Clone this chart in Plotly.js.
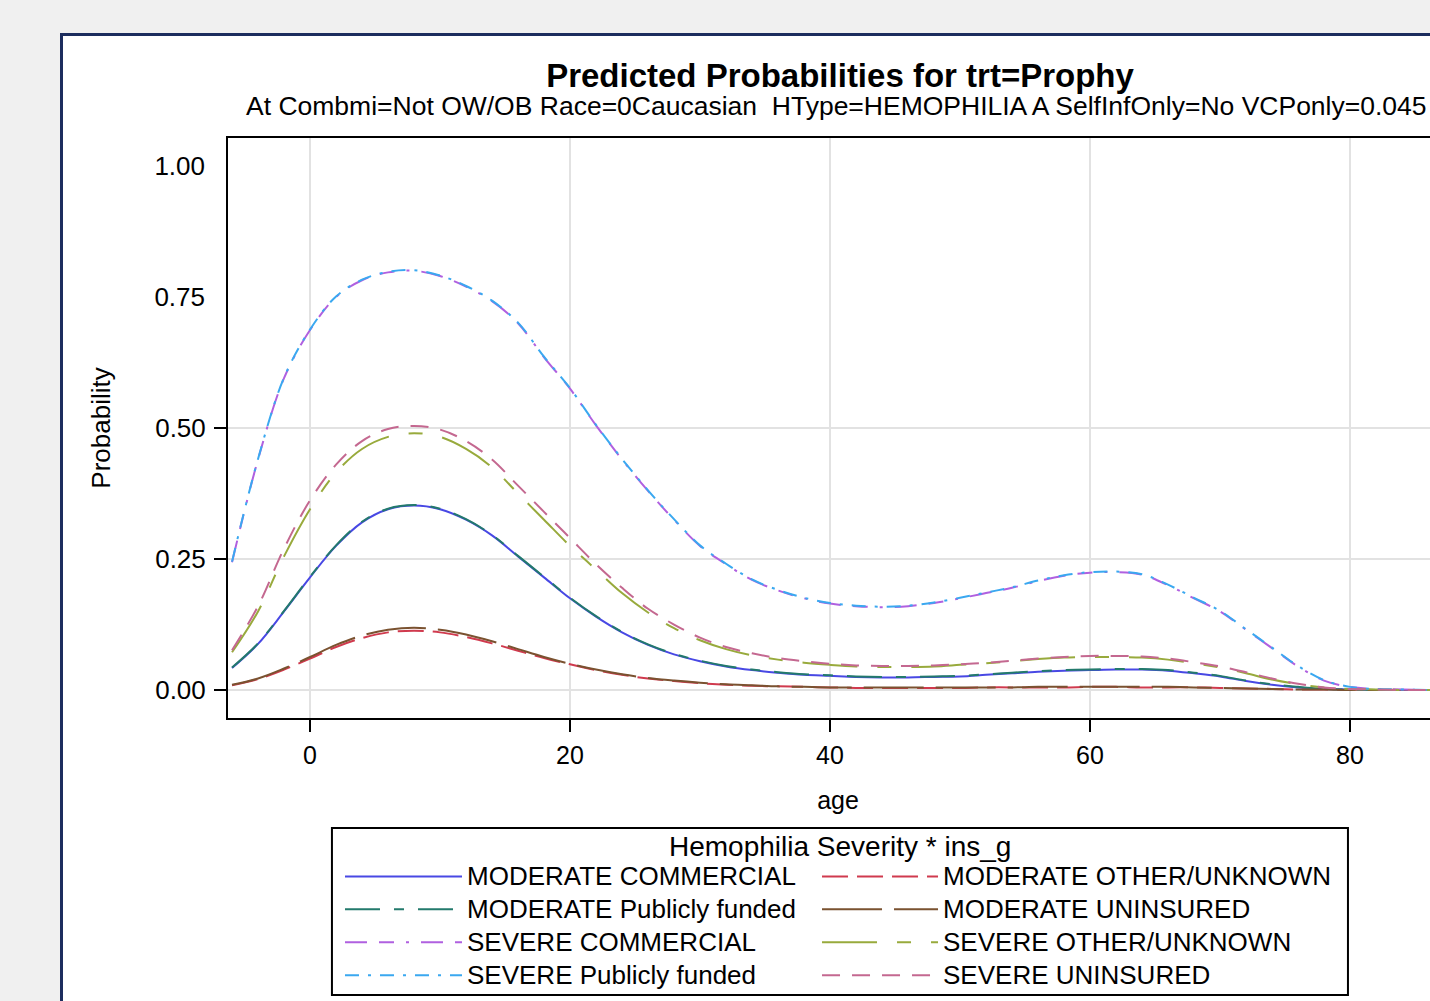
<!DOCTYPE html>
<html>
<head>
<meta charset="utf-8">
<script src="https://cdn.plot.ly/plotly-3.0.1.min.js"></script>
<style>
  html, body { margin:0; padding:0; width:1430px; height:1001px; overflow:hidden; background:#f0f0f0; }
  #frame { position:absolute; left:60px; top:33px; width:1600px; height:1100px; background:#ffffff;
           border-left:3px solid #1c2d5e; border-top:3px solid #1c2d5e; }
  #chart { position:absolute; left:0px; top:0px; }
</style>
</head>
<body>
<div id="frame"><div id="chart"></div></div>
<script>
// ---- data ----
const age = [-6,-4,-2,0,2,4,6,8,10,12,14,16,18,20,22,24,26,28,30,32,34,36,38,40,42,44,46,48,50,52,54,56,58,60,62,64,66,68,70,72,74,76,78,80,82,84,86,88];

const modCommercial = [0.042,0.088,0.150,0.215,0.275,0.320,0.345,0.352,0.345,0.325,0.295,0.255,0.215,0.175,0.140,0.110,0.086,0.068,0.055,0.045,0.038,0.033,0.029,0.027,0.025,0.024,0.024,0.025,0.026,0.029,0.032,0.035,0.037,0.038,0.039,0.039,0.037,0.032,0.026,0.017,0.010,0.005,0.002,0.001,0.000,0.000,0.000,0.000];
const modOther = [0.009,0.021,0.039,0.060,0.082,0.099,0.110,0.113,0.110,0.101,0.089,0.075,0.061,0.049,0.038,0.029,0.022,0.017,0.013,0.010,0.008,0.007,0.006,0.005,0.004,0.004,0.004,0.004,0.004,0.005,0.005,0.005,0.005,0.006,0.006,0.005,0.005,0.005,0.004,0.003,0.002,0.001,0.001,0.000,0.000,0.000,0.000,0.000];
const modPublic = [0.043,0.089,0.151,0.216,0.276,0.321,0.346,0.353,0.346,0.326,0.296,0.256,0.216,0.176,0.141,0.111,0.087,0.069,0.056,0.046,0.039,0.034,0.030,0.028,0.026,0.025,0.025,0.026,0.027,0.030,0.033,0.036,0.038,0.039,0.040,0.040,0.038,0.033,0.027,0.018,0.011,0.006,0.002,0.001,0.000,0.000,0.000,0.000];
const modUninsured = [0.010,0.022,0.041,0.063,0.086,0.104,0.115,0.119,0.115,0.106,0.093,0.078,0.063,0.050,0.039,0.030,0.023,0.018,0.014,0.011,0.009,0.007,0.006,0.005,0.005,0.005,0.005,0.005,0.005,0.005,0.005,0.006,0.006,0.006,0.006,0.006,0.006,0.005,0.004,0.003,0.002,0.001,0.001,0.000,0.000,0.000,0.000,0.000];
const sevCommercial = [0.244,0.440,0.595,0.687,0.750,0.782,0.797,0.800,0.790,0.770,0.742,0.700,0.635,0.575,0.505,0.440,0.380,0.325,0.275,0.240,0.210,0.190,0.175,0.165,0.160,0.158,0.160,0.166,0.175,0.185,0.195,0.208,0.218,0.224,0.225,0.220,0.200,0.175,0.150,0.115,0.080,0.045,0.018,0.006,0.002,0.001,0.000,0.000];
const sevOther = [0.072,0.150,0.255,0.345,0.415,0.460,0.483,0.490,0.483,0.460,0.425,0.375,0.325,0.275,0.230,0.185,0.148,0.118,0.095,0.078,0.066,0.058,0.052,0.048,0.045,0.044,0.044,0.045,0.048,0.051,0.055,0.059,0.062,0.063,0.063,0.062,0.058,0.051,0.043,0.032,0.020,0.011,0.005,0.002,0.001,0.000,0.000,0.000];
const sevPublic = [0.245,0.441,0.596,0.688,0.751,0.783,0.798,0.801,0.791,0.771,0.743,0.701,0.636,0.576,0.506,0.441,0.381,0.326,0.276,0.241,0.211,0.191,0.176,0.166,0.161,0.159,0.161,0.167,0.176,0.186,0.196,0.209,0.219,0.225,0.226,0.221,0.201,0.176,0.151,0.116,0.081,0.046,0.019,0.006,0.002,0.001,0.000,0.000];
const sevUninsured = [0.076,0.160,0.270,0.362,0.430,0.475,0.498,0.504,0.497,0.475,0.440,0.390,0.340,0.290,0.240,0.195,0.155,0.125,0.100,0.082,0.070,0.061,0.055,0.050,0.047,0.046,0.046,0.047,0.049,0.052,0.056,0.060,0.063,0.065,0.065,0.064,0.060,0.053,0.045,0.034,0.022,0.012,0.005,0.002,0.001,0.000,0.000,0.000];

const seriesNames = ["MODERATE COMMERCIAL","MODERATE OTHER/UNKNOWN","MODERATE Publicly funded","MODERATE UNINSURED",
                     "SEVERE COMMERCIAL","SEVERE OTHER/UNKNOWN","SEVERE Publicly funded","SEVERE UNINSURED"];
const seriesValues = [modCommercial, modOther, modPublic, modUninsured, sevCommercial, sevOther, sevPublic, sevUninsured];

// y ticks: in the reference only the lower three carry a tick mark and grid line
const yTickVals = [0, 0.25, 0.5, 0.75, 1.0];
const yTicksWithGrid = [0, 0.25, 0.5];
const xTickVals = [0, 20, 40, 60, 80];

const titleText = "Predicted Probabilities for trt=Prophy";
const subtitleText = "At Combmi=Not OW/OB Race=0Caucasian  HType=HEMOPHILIA A SelfInfOnly=No VCPonly=0.045";
const legendTitle = "Hemophilia Severity * ins_g";

// ---- styles ----
const colors = ["#4848e4","#d03a4e","#237a6c","#7a5230","#b060e0","#98aa3c","#3aa8f0","#c46890"];
const dashes = ["solid","26px,9px","35px,14px,10px,14px","60px,12px","22px,12px,15px,12px,3px,12px","55px,20px,14px,20px","14px,9px,3px,9px","18px,12px"];
const legendCol = ["legend","legend2","legend","legend2","legend","legend2","legend","legend2"];
// both y axes share the identical range; the second only carries the upper tick labels
const yAxisOf = ["y","y","y","y","y","y","y2","y2"];

const FONT = "'Liberation Sans', Arial, sans-serif";

const traces = seriesNames.map((n, i) => ({
  type: "scatter", mode: "lines", x: age, y: seriesValues[i], legend: legendCol[i], yaxis: yAxisOf[i],
  name: '<span style="font-size:26px">' + n + '</span>',
  line: { color: colors[i], width: 2, dash: dashes[i], shape: "spline" }
}));

const legendCommon = {
  orientation: "v", xanchor: "left", yanchor: "top",
  borderwidth: 0, bgcolor: "rgba(0,0,0,0)",
  font: { size: 23, family: FONT, color: "#000" },
  tracegroupgap: 0, itemclick: false, traceorder: "normal"
};

const yRange = [-0.0534, 1.0534];

const layout = {
  width: 1554, height: 980,
  margin: { l: 165, r: 169, t: 102, b: 298, autoexpand: false },
  paper_bgcolor: "#ffffff", plot_bgcolor: "#ffffff",
  font: { family: FONT, color: "#000000", size: 25 },
  showlegend: true,
  title: { text: "<b>" + titleText + "</b>", x: 0.5, xref: "container", xanchor: "center",
           y: 1 - 39/980, yref: "container", yanchor: "middle",
           font: { family: FONT, size: 33, color: "#000000" } },
  annotations: [
    { text: subtitleText, xref: "paper", yref: "paper", x: 0.4984, y: 1.0552,
      xanchor: "center", yanchor: "middle", showarrow: false,
      font: { family: FONT, size: 26.5, color: "#000000" } },
    { text: legendTitle, xref: "paper", yref: "paper", x: 0.5016, y: -0.2224,
      xanchor: "center", yanchor: "middle", showarrow: false,
      font: { family: FONT, size: 28, color: "#000000" } }
  ],
  shapes: [
    { type: "rect", xref: "paper", yref: "paper", x0: 0.0852, x1: 0.9180, y0: -0.1897, y1: -0.4776,
      line: { color: "#000", width: 2 }, fillcolor: "rgba(0,0,0,0)" }
  ],
  xaxis: {
    range: [-6.31, 87.54], tickvals: xTickVals, ticks: "outside", ticklen: 12, tickwidth: 2, tickcolor: "#000",
    showline: true, linecolor: "#000", linewidth: 2, mirror: true,
    showgrid: true, gridcolor: "#e2e2e2", gridwidth: 2, zeroline: false,
    tickfont: { size: 25 }, ticklabelstandoff: 2,
    title: { text: "age", font: { size: 25 }, standoff: 23 }
  },
  yaxis: {
    range: yRange, tickvals: yTicksWithGrid, tickformat: ".2f", ticks: "outside", ticklen: 12, tickwidth: 2, tickcolor: "#000",
    showline: true, linecolor: "#000", linewidth: 2, mirror: true,
    showgrid: true, gridcolor: "#e2e2e2", gridwidth: 2, zeroline: false,
    tickfont: { size: 26 }, ticklabelstandoff: 3,
    title: { text: "Probability", font: { size: 26 }, standoff: 37 }
  },
  yaxis2: {
    overlaying: "y", side: "left", anchor: "x",
    range: yRange, tickvals: yTickVals.filter(v => !yTicksWithGrid.includes(v)), tickformat: ".2f", ticks: "",
    showline: false, showgrid: false, zeroline: false,
    tickfont: { size: 26 }, ticklabelstandoff: 22
  },
  legend: Object.assign({}, legendCommon, { x: 0.0918, y: -0.2362, itemwidth: 117 }),
  legend2: Object.assign({}, legendCommon, { x: 0.4828, y: -0.2362, itemwidth: 116 })
};

Plotly.newPlot("chart", traces, layout, { displayModeBar: false, staticPlot: true });
</script>
</body>
</html>
